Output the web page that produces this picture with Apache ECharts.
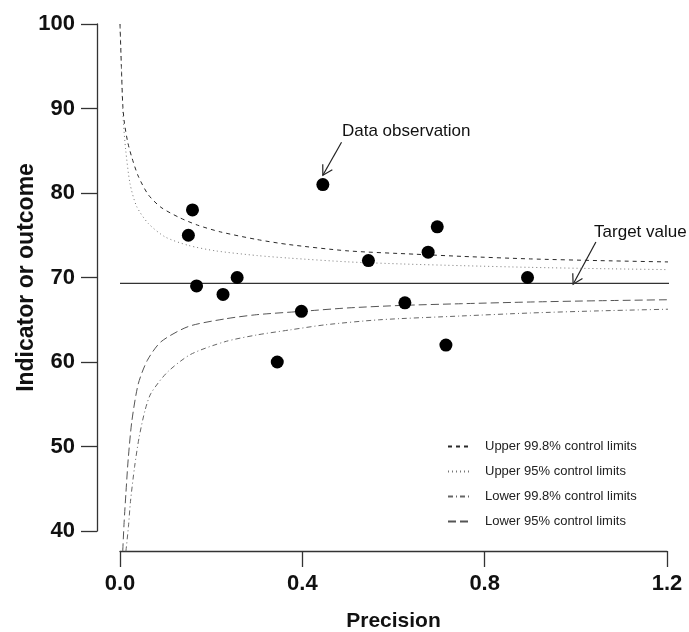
<!DOCTYPE html>
<html>
<head>
<meta charset="utf-8">
<script src="https://cdn.jsdelivr.net/npm/echarts/dist/echarts.min.js"></script>
<style>
  html, body { margin: 0; padding: 0; background: #fff; }
  #chart { width: 689px; height: 632px; }
</style>
</head>
<body>
<div id="chart"></div>
<script>
// Observed units: precision (x) and indicator value (y)
const obsPrecision = [0.150, 0.159, 0.168, 0.226, 0.257, 0.345, 0.398, 0.445, 0.545, 0.625, 0.676, 0.696, 0.715, 0.894];
const obsOutcome   = [75, 78, 69, 68, 70, 60, 66, 81, 72, 67, 73, 76, 62, 70];

// Target value (horizontal reference line) and its extent along x
const targetValue = 69.3;
const targetSpan = [0, 1.245];

// Control limit curves
const upper998X = [0, 0.003, 0.006, 0.0094, 0.017, 0.026, 0.04, 0.062, 0.09, 0.13, 0.17, 0.22, 0.3, 0.37, 0.5, 0.65, 0.75, 0.9, 1.05, 1.245];
const upper998Y = [100, 95, 90.5, 88.4, 86, 84.2, 82, 79.8, 78.3, 77.1, 76.2, 75.4, 74.5, 73.9, 73.15, 72.75, 72.5, 72.2, 72.0, 71.8];

const upper95X = [0, 0.0037, 0.0072, 0.0125, 0.022, 0.0366, 0.062, 0.099, 0.15, 0.21, 0.3, 0.37, 0.5, 0.62, 0.75, 0.9, 1.05, 1.245];
const upper95Y = [100, 93.8, 88.6, 85.1, 81.1, 78.4, 76.4, 74.8, 73.8, 73.15, 72.6, 72.3, 71.85, 71.6, 71.4, 71.2, 71.05, 70.9];

const lower998X = [0.013, 0.0185, 0.023, 0.032, 0.042, 0.055, 0.068, 0.104, 0.155, 0.23, 0.3, 0.373, 0.45, 0.57, 0.75, 0.9, 1.05, 1.245];
const lower998Y = [37.6, 40.5, 43.5, 47.6, 51.1, 54.3, 56.3, 58.8, 60.9, 62.4, 63.2, 63.8, 64.4, 65.0, 65.45, 65.8, 66.05, 66.3];

const lower95X = [0.006, 0.009, 0.013, 0.018, 0.026, 0.04, 0.06, 0.09, 0.15, 0.23, 0.3, 0.4, 0.5, 0.62, 0.75, 0.9, 1.05, 1.245];
const lower95Y = [37.6, 41, 44.5, 48.5, 53, 57.4, 60.2, 62.4, 64.2, 65.1, 65.6, 66.0, 66.4, 66.7, 66.9, 67.1, 67.25, 67.4];

// Axis ticks
const xTicks = { min: 0, max: 1.2, step: 0.4 };
const yTicks = { min: 40, max: 100, step: 10 };

// Callout annotations (data coordinates)
const obsNote = { text: 'Data observation', at: [0.487, 87.3], tail: [0.486, 86.0], tip: [0.445, 82.1] };
const targetNote = { text: 'Target value', at: [1.040, 75.4], tail: [1.044, 74.2], tip: [0.994, 69.2] };

const limitNames = [
  'Upper 99.8% control limits',
  'Upper 95% control limits',
  'Lower 99.8% control limits',
  'Lower 95% control limits'
];

const zip = (xs, ys) => xs.map((x, i) => [x, ys[i]]);
const FONT = '"Liberation Sans", Arial, Helvetica, sans-serif';
const AXIS_COLOR = '#333';

function curve(name, xs, ys, color, dash) {
  return {
    name: name,
    type: 'line',
    data: zip(xs, ys),
    symbol: 'none',
    smooth: 0.25,
    clip: false,
    silent: true,
    lineStyle: { color: color, width: 1, type: dash },
    itemStyle: { color: color },
    z: 2
  };
}

const chart = echarts.init(document.getElementById('chart'), null, { renderer: 'canvas' });

chart.setOption({
  animation: false,
  backgroundColor: '#fff',
  textStyle: { fontFamily: FONT },
  grid: { left: 120, right: 22, top: 24, bottom: 101, containLabel: false, outerBoundsMode: 'none' },
  xAxis: {
    type: 'value',
    min: xTicks.min, max: xTicks.max, interval: xTicks.step,
    offset: 20,
    name: 'Precision',
    nameLocation: 'middle',
    nameGap: 60,
    nameMoveOverlap: false,
    nameTextStyle: { fontSize: 21, fontWeight: 'bold', color: '#111', fontFamily: FONT },
    axisLine: { show: true, onZero: false, lineStyle: { color: AXIS_COLOR, width: 1.3 } },
    axisTick: { show: true, length: 16, lineStyle: { color: AXIS_COLOR, width: 1.3 } },
    axisLabel: {
      fontSize: 22, fontWeight: 'bold', color: '#111', margin: 22, fontFamily: FONT,
      formatter: v => v.toFixed(1)
    },
    splitLine: { show: false }
  },
  yAxis: {
    type: 'value',
    min: yTicks.min, max: yTicks.max, interval: yTicks.step,
    offset: 23,
    name: 'Indicator or outcome',
    nameLocation: 'middle',
    nameRotate: 90,
    nameGap: 59,
    nameMoveOverlap: false,
    nameTextStyle: { fontSize: 23, fontWeight: 'bold', color: '#111', fontFamily: FONT },
    axisLine: { show: true, onZero: false, lineStyle: { color: AXIS_COLOR, width: 1.3 } },
    axisTick: { show: true, length: 16, lineStyle: { color: AXIS_COLOR, width: 1.3 } },
    axisLabel: { fontSize: 22, fontWeight: 'bold', color: '#111', margin: 22, fontFamily: FONT },
    splitLine: { show: false }
  },
  legend: {
    data: limitNames,
    orient: 'vertical',
    left: 442,
    top: 435,
    itemWidth: 22,
    itemHeight: 10,
    itemGap: 12,
    selectedMode: false,
    itemStyle: { opacity: 0 },
    textStyle: { fontSize: 13, color: '#222', fontFamily: FONT, padding: [0, 0, 0, 10] }
  },
  series: [
    curve(limitNames[0], upper998X, upper998Y, '#2a2a2a', [4, 4]),
    curve(limitNames[1], upper95X, upper95Y, '#777', [1, 3]),
    curve(limitNames[2], lower998X, lower998Y, '#666', [5, 3, 1, 3]),
    curve(limitNames[3], lower95X, lower95Y, '#555', [8, 4]),
    {
      name: 'Target value',
      type: 'line',
      data: targetSpan.map(x => [x, targetValue]),
      symbol: 'none',
      clip: false,
      silent: true,
      lineStyle: { color: '#333', width: 1.3 },
      z: 3
    },
    {
      name: 'Observations',
      type: 'scatter',
      data: zip(obsPrecision, obsOutcome),
      symbol: 'circle',
      symbolSize: 13,
      itemStyle: { color: '#000', opacity: 1 },
      z: 5
    }
  ]
});

// Callout text with an open arrowhead pointing at the feature
function callout(note) {
  const p = chart.convertToPixel({ gridIndex: 0 }, note.at);
  const t0 = chart.convertToPixel({ gridIndex: 0 }, note.tail);
  const t1 = chart.convertToPixel({ gridIndex: 0 }, note.tip);
  const a = Math.atan2(t1[1] - t0[1], t1[0] - t0[0]);
  const len = 11, spread = Math.PI / 6;
  const h1 = [t1[0] - len * Math.cos(a - spread), t1[1] - len * Math.sin(a - spread)];
  const h2 = [t1[0] - len * Math.cos(a + spread), t1[1] - len * Math.sin(a + spread)];
  const stroke = { stroke: '#222', lineWidth: 1.2, fill: null };
  return [
    { type: 'text', x: p[0], y: p[1], silent: true,
      style: { text: note.text, font: '17px ' + FONT, fill: '#111', align: 'left', verticalAlign: 'middle' } },
    { type: 'line', silent: true, shape: { x1: t0[0], y1: t0[1], x2: t1[0], y2: t1[1] }, style: stroke },
    { type: 'polyline', silent: true, shape: { points: [h1, t1, h2] }, style: stroke }
  ];
}

chart.setOption({ graphic: [].concat(callout(obsNote), callout(targetNote)) });
</script>
</body>
</html>
